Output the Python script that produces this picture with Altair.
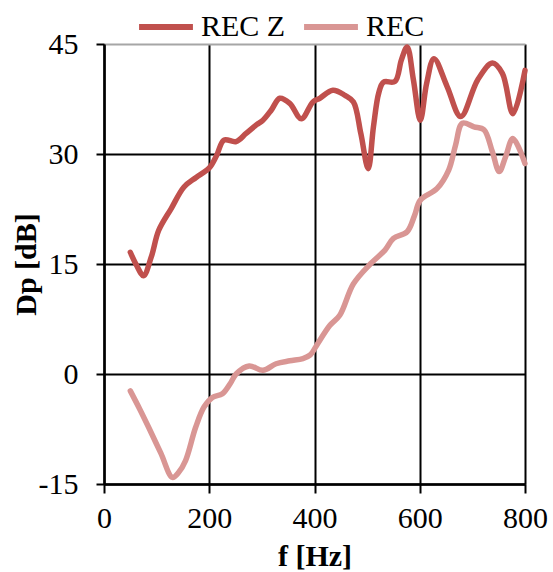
import altair as alt
import pandas as pd

# Frequency (Hz) and sound level difference Dp (dB) for each configuration
rec_z_freq = [50, 62, 75, 90, 104, 128, 152, 175, 200, 214, 228, 251, 270, 290, 302,
              318, 334, 353, 375, 397, 410, 435, 458, 474, 488, 502, 512, 522, 531,
              553, 565, 576, 588, 601, 613, 627, 652, 678, 710, 738, 757, 777, 800]
rec_z_dp = [16.6, 14.8, 13.4, 16.0, 19.6, 22.6, 25.5, 26.8, 28.1, 29.8, 31.9, 31.7, 32.8,
            34.0, 34.6, 36.0, 37.6, 36.9, 34.8, 37.1, 37.6, 38.7, 38.0, 37.1, 32.8, 28.0,
            33.7, 38.3, 39.8, 39.9, 42.8, 44.6, 40.1, 34.6, 39.6, 43.0, 39.2, 35.1, 40.1,
            42.4, 41.0, 35.5, 41.4]

rec_freq = [50, 68, 85, 108, 130, 142, 155, 174, 190, 206, 225, 240, 251, 276, 302, 327,
            353, 378, 392, 404, 429, 448, 474, 506, 534, 550, 576, 590, 601, 633, 655,
            668, 681, 703, 722, 738, 751, 763, 777, 800]
rec_dp = [-2.3, -4.8, -7.3, -10.8, -14.1, -13.4, -11.8, -7.3, -4.5, -3.2, -2.7, -1.3, 0.0,
          1.1, 0.5, 1.4, 1.8, 2.1, 2.6, 3.9, 6.6, 8.0, 12.3, 15.0, 16.9, 18.5, 19.4, 21.6,
          23.7, 25.3, 27.8, 31.2, 34.2, 33.7, 33.3, 30.3, 27.6, 29.6, 32.1, 28.7]

series_names = ["REC Z", "REC"]
series_colors = ["#C0504D", "#D99694"]

df = pd.concat([
    pd.DataFrame({"f": rec_z_freq, "dp": rec_z_dp, "series": "REC Z", "order": range(len(rec_z_freq))}),
    pd.DataFrame({"f": rec_freq, "dp": rec_dp, "series": "REC", "order": range(len(rec_freq))}),
])

FONT = "Liberation Serif"

chart = alt.Chart(df).mark_line(
    strokeWidth=5.5, strokeCap="round", strokeJoin="round", interpolate="catmull-rom"
).encode(
    x=alt.X("f:Q",
            scale=alt.Scale(domain=[0, 800], nice=False, zero=False),
            axis=alt.Axis(values=[0, 200, 400, 600, 800], title="f [Hz]",
                          grid=True, gridColor="black", gridWidth=2,
                          domainColor="black", domainWidth=2.5,
                          tickColor="black", tickWidth=2, tickSize=9,
                          labelFont=FONT, labelFontSize=30, labelColor="black",
                          labelPadding=10, labelFlush=False,
                          titleFont=FONT, titleFontSize=30, titleFontWeight="bold",
                          titleColor="black", titleBaseline="middle", titleY=72)),
    y=alt.Y("dp:Q",
            scale=alt.Scale(domain=[-15, 45], nice=False, zero=False),
            axis=alt.Axis(values=[-15, 0, 15, 30, 45], title="Dp [dB]",
                          grid=True,
                          gridColor={"condition": {"test": "datum.value === 45", "value": "#a6a6a6"},
                                     "value": "black"},
                          gridWidth=2,
                          domainColor="black", domainWidth=2.5,
                          tickColor="black", tickWidth=2, tickSize=8,
                          labelExpr="datum.value < 0 ? '-' + (-datum.value) : '' + datum.value",
                          labelFont=FONT, labelFontSize=30, labelColor="black",
                          labelPadding=18, labelFlush=False,
                          titleFont=FONT, titleFontSize=30, titleFontWeight="bold",
                          titleColor="black", titleBaseline="middle", titleAngle=-90,
                          titleX=-78, titleY=220, titleAlign="center")),
    color=alt.Color("series:N",
                    scale=alt.Scale(domain=series_names, range=series_colors),
                    sort=series_names,
                    legend=alt.Legend(title=None, orient="none", direction="horizontal",
                                      legendX=32, legendY=-47, padding=0,
                                      symbolType="stroke", symbolSize=2900,
                                      symbolStrokeWidth=6, labelOffset=5,
                                      columnPadding=6,
                                      labelFont=FONT, labelFontSize=30, labelColor="black")),
    order="order:Q",
).properties(
    width=421,
    height=440,
    autosize=alt.AutoSizeParams(type="none"),
    padding={"left": 104, "top": 44, "right": 28, "bottom": 88},
).configure_view(stroke=None).configure(background="white")

chart.save("out.html", embed_options={"renderer": "svg", "actions": False})
